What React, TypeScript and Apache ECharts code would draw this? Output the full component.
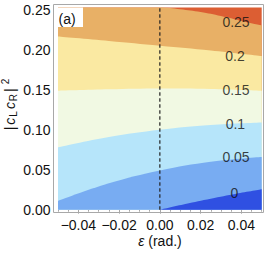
import React, { useEffect, useRef } from 'react';
import * as echarts from 'echarts';

// ---- plot range ----
const X_MIN = -0.05;
const X_MAX = 0.05;
const Y_MIN = 0;
const Y_MAX = 0.25;
const Y_TOP = 0.2527; // upper edge of the filled plot region

// ---- ticks ----
const xMajorTicks = [-0.04, -0.02, 0, 0.02, 0.04];
const xMinorTicks = [-0.05, -0.045, -0.035, -0.03, -0.025, -0.015, -0.01, -0.005, 0.005, 0.01, 0.015, 0.025, 0.03, 0.035, 0.045, 0.05];
const yMajorTicks = [0, 0.05, 0.1, 0.15, 0.2, 0.25];
const yMinorTicks = [0.01, 0.02, 0.03, 0.04, 0.06, 0.07, 0.08, 0.09, 0.11, 0.12, 0.13, 0.14, 0.16, 0.17, 0.18, 0.19, 0.21, 0.22, 0.23, 0.24];

// ---- contour boundaries (x, y) ----
const contour000 = [[0, 0], [0.0125, 0.0072], [0.025, 0.0138], [0.0375, 0.0199], [0.05, 0.0255]];
const contour005 = [[-0.05, 0.011], [-0.025, 0.033], [0, 0.049], [0.025, 0.06], [0.05, 0.066]];
const contour010 = [[-0.05, 0.078], [-0.025, 0.091], [0, 0.1], [0.025, 0.106], [0.05, 0.109]];
const contour015 = [[-0.05, 0.1487], [-0.025, 0.1505], [0, 0.1515], [0.025, 0.151], [0.05, 0.1488]];
const contour020 = [[-0.05, 0.2165], [-0.025, 0.211], [0, 0.205], [0.025, 0.199], [0.05, 0.192]];
const contour025 = [[-0.05, Y_TOP], [0, Y_TOP], [0.01, 0.2505], [0.02, 0.247], [0.03, 0.242], [0.04, 0.236], [0.05, 0.2305]];

// region colours, from below level 0 up to above level 0.25
const regionColors = ['#2f50e2', '#78acf2', '#b6e5fa', '#f1f9e3', '#fae9a2', '#e8b066', '#dc5e33'];

// ---- contour labels ----
const labelText = ['0.25', '0.2', '0.15', '0.1', '0.05', '0'];
const labelX = [0.0374, 0.0369, 0.0374, 0.0371, 0.0374, 0.0366];
const labelY = [0.2346, 0.1921, 0.1496, 0.1071, 0.0653, 0.0215];

const FONT = '"Liberation Sans", Arial, sans-serif';
const FRAME = '#a8a8a8';
const TEXT = '#111';

function fmt(v: number): string {
  const s = Math.abs(v).toFixed(2);
  return v < -1e-9 ? '\u2212' + s : s;
}

export default function App() {
  const ref = useRef<HTMLDivElement>(null);
  useEffect(() => {
    document.body.style.margin = '0';
    const chart = echarts.init(ref.current!, undefined, { renderer: 'svg' });

    const boundaries = [contour000, contour005, contour010, contour015, contour020, contour025];
    const areaSeries: any[] = [];
    areaSeries.push({
      type: 'line',
      data: [[X_MIN, Y_TOP], [X_MAX, Y_TOP]],
      symbol: 'none',
      lineStyle: { width: 0 },
      areaStyle: { color: regionColors[6], opacity: 1, origin: 'start' },
      clip: false,
      silent: true,
      z: 2,
    });
    for (let i = boundaries.length - 1; i >= 0; i--) {
      areaSeries.push({
        type: 'line',
        data: boundaries[i],
        smooth: 0.4,
        symbol: 'none',
        lineStyle: { width: 0 },
        areaStyle: { color: regionColors[i], opacity: 1, origin: 'start' },
        clip: false,
        silent: true,
        z: 2,
      });
    }

    const tickAxisX = (position: string, offset: number, values: number[], len: number, labels: boolean) => ({
      type: 'value',
      min: X_MIN,
      max: X_MAX,
      position,
      offset,
      axisLine: { show: false },
      splitLine: { show: false },
      axisTick: { show: true, inside: true, length: len, lineStyle: { color: FRAME, width: 1 }, customValues: values },
      axisLabel: labels
        ? { show: true, customValues: values, formatter: (v: number) => fmt(v), margin: 5, color: TEXT, fontSize: 14, fontFamily: FONT }
        : { show: false },
    });
    const tickAxisY = (position: string, offset: number, values: number[], len: number, labels: boolean) => ({
      type: 'value',
      min: Y_MIN,
      max: Y_MAX,
      position,
      offset,
      axisLine: { show: false },
      splitLine: { show: false },
      axisTick: { show: true, inside: true, length: len, lineStyle: { color: FRAME, width: 1 }, customValues: values },
      axisLabel: labels
        ? { show: true, customValues: values, formatter: (v: number) => v.toFixed(2), margin: 3, color: TEXT, fontSize: 14, fontFamily: FONT }
        : { show: false },
    });

    chart.setOption({
      animation: false,
      backgroundColor: '#fff',
      grid: { left: 58, right: 4.3, top: 9.7, bottom: 45.3, containLabel: false, outerBoundsMode: 'none' },
      xAxis: [
        tickAxisX('bottom', 3, xMajorTicks, 4, true),
        tickAxisX('bottom', 3, xMinorTicks, 2, false),
        tickAxisX('top', 5, xMajorTicks, 4, false),
        tickAxisX('top', 5, xMinorTicks, 2, false),
      ],
      yAxis: [
        tickAxisY('left', 4.5, yMajorTicks, 4, true),
        tickAxisY('left', 4.5, yMinorTicks, 2, false),
        tickAxisY('right', 2, yMajorTicks, 4, false),
        tickAxisY('right', 2, yMinorTicks, 2, false),
      ],
      series: [
        ...areaSeries,
        {
          type: 'line',
          data: [[0, Y_MIN], [0, Y_TOP]],
          symbol: 'none',
          lineStyle: { color: '#222', width: 1.2, type: [3.5, 2.5] },
          clip: false,
          silent: true,
          z: 3,
        },
        {
          type: 'scatter',
          data: labelText.map((t, i) => ({ name: t, value: [labelX[i], labelY[i]] })),
          symbolSize: 0,
          itemStyle: { color: 'transparent' },
          label: { show: true, position: 'inside', formatter: '{b}', color: TEXT, fontSize: 14, fontFamily: FONT },
          silent: true,
          z: 4,
        },
      ],
      graphic: [
        {
          type: 'rect',
          z: 100,
          shape: { x: 53.5, y: 4.5, width: 210, height: 208 },
          style: { fill: 'none', stroke: FRAME, lineWidth: 1 },
          silent: true,
        },
        {
          type: 'rect',
          z: 90,
          shape: { x: 58, y: 7.5, width: 25, height: 19.5 },
          style: { fill: '#fff' },
          silent: true,
        },
        {
          type: 'text',
          z: 101,
          x: 58.5,
          y: 18.5,
          style: { text: '(a)', fontSize: 14, fontFamily: FONT, fill: TEXT, align: 'left', verticalAlign: 'middle' },
          silent: true,
        },
        {
          type: 'text',
          z: 101,
          x: 160,
          y: 241,
          style: {
            text: '{i|\u03b5} (rad.)',
            fontSize: 14,
            fontFamily: FONT,
            fill: TEXT,
            align: 'center',
            verticalAlign: 'middle',
            rich: { i: { fontStyle: 'italic', fontSize: 14, fontFamily: FONT, fill: TEXT } },
          },
          silent: true,
        },
        {
          type: 'text',
          z: 101,
          x: 9.5,
          y: 105,
          rotation: Math.PI / 2,
          style: {
            text: '{b||}{i|c}{s|L}{i|c}{s|R}{b||}{p|2}',
            fontSize: 14,
            fontFamily: FONT,
            fill: TEXT,
            align: 'center',
            verticalAlign: 'middle',
            rich: {
              b: { fontSize: 14, fontFamily: FONT, fill: TEXT, lineHeight: 18, padding: [0, 1, 0, 1] },
              i: { fontStyle: 'italic', fontSize: 14, fontFamily: FONT, fill: TEXT, lineHeight: 18, padding: [0, 1, 0, 1] },
              s: { fontSize: 10, fontFamily: FONT, fill: TEXT, verticalAlign: 'bottom', padding: [0, 1, 0, 0] },
              p: { fontSize: 10, fontFamily: FONT, fill: TEXT, verticalAlign: 'top', padding: [0, 0, 0, 3] },
            },
          },
          silent: true,
        },
      ],
    });
    return () => chart.dispose();
  }, []);
  return <div ref={ref} style={{ width: 266, height: 255 }} />;
}
